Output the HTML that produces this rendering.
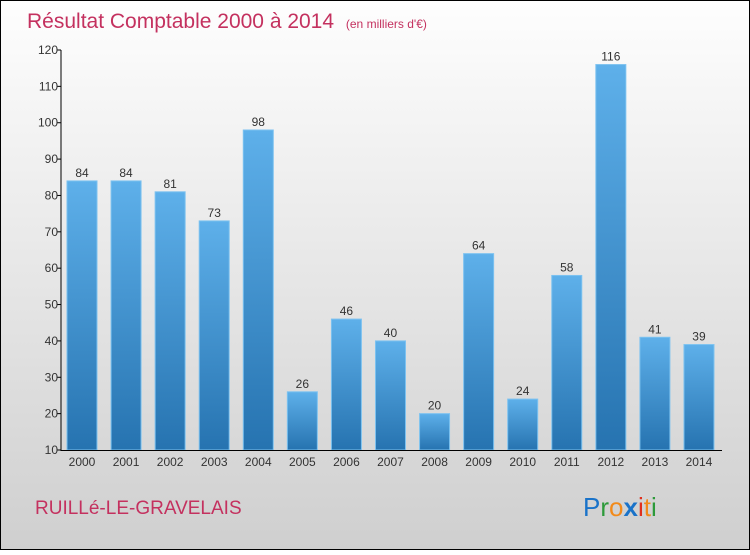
<!DOCTYPE html>
<html><head><meta charset="utf-8"><style>
html,body{margin:0;padding:0;}
body{width:750px;height:550px;overflow:hidden;font-family:"Liberation Sans",sans-serif;}
</style></head><body>
<svg width="750" height="550" xmlns="http://www.w3.org/2000/svg">
<defs>
<linearGradient id="bg" x1="0" y1="0" x2="0" y2="1"><stop offset="0" stop-color="#fefefe"/><stop offset="1" stop-color="#cfcfcf"/></linearGradient>
<linearGradient id="bar" x1="0" y1="0" x2="0" y2="1"><stop offset="0" stop-color="#5eb0ea"/><stop offset="1" stop-color="#2673b0"/></linearGradient>
</defs>
<rect x="0.5" y="0.5" width="749" height="549" fill="url(#bg)" stroke="#000"/>
<text x="27" y="28" font-size="21" fill="#c4315f">Résultat Comptable 2000 à 2014 <tspan font-size="12" dx="6">(en milliers d'€)</tspan></text>
<g id="ticks"></g>
<g id="bars"></g>
<line x1="61" y1="50" x2="61" y2="451" stroke="#000"/>
<line x1="61" y1="450.5" x2="722" y2="450.5" stroke="#000"/>
<text x="35" y="514" font-size="19" fill="#c4315f">RUILLé-LE-GRAVELAIS</text>
<g font-size="26" font-family="'Liberation Sans',sans-serif">
<text x="583" y="516" fill="#1a73c9">P<tspan fill="#2d9a3a">r</tspan><tspan fill="#f28a1a">o</tspan><tspan fill="#1a73c9" font-weight="bold">x</tspan><tspan fill="#e0301e">i</tspan><tspan fill="#f28a1a">t</tspan><tspan fill="#2d9a3a">i</tspan></text>
</g>
</svg>
<script>
const years=["2000","2001","2002","2003","2004","2005","2006","2007","2008","2009","2010","2011","2012","2013","2014"];
const values=[84,84,81,73,98,26,46,40,20,64,24,58,116,41,39];
const yTicks=[10,20,30,40,50,60,70,80,90,100,110,120];
const NS="http://www.w3.org/2000/svg";
const y=v=>450-(v-10)*400/110;
const x=i=>82+i*44.07;
const tg=document.getElementById('ticks');
yTicks.forEach(t=>{
 const l=document.createElementNS(NS,'line');
 
 
 l.setAttribute('x1',57);l.setAttribute('x2',61);l.setAttribute('y1',y(t));l.setAttribute('y2',y(t));l.setAttribute('stroke','#000');
 tg.appendChild(l);
 const s=document.createElementNS(NS,'text');
 
 
 s.setAttribute('x',58);s.setAttribute('y',y(t)+4);s.setAttribute('text-anchor','end');s.setAttribute('font-size','12');s.setAttribute('fill','#333');
 s.textContent=t;tg.appendChild(s);
});
const bg=document.getElementById('bars');
values.forEach((v,i)=>{
 const r=document.createElementNS(NS,'rect');
 
 
 r.setAttribute('x',x(i)-15);r.setAttribute('width',30);r.setAttribute('y',y(v));r.setAttribute('height',450-y(v));
 r.setAttribute('fill','url(#bar)');r.setAttribute('stroke','#7cc2f0');r.setAttribute('stroke-width','1');
 bg.appendChild(r);
 const t=document.createElementNS(NS,'text');
 
 
 t.setAttribute('x',x(i));t.setAttribute('y',y(v)-4);t.setAttribute('text-anchor','middle');t.setAttribute('font-size','12');t.setAttribute('fill','#333');
 t.textContent=v;bg.appendChild(t);
 const xl=document.createElementNS(NS,'text');
 
 
 xl.setAttribute('x',x(i));xl.setAttribute('y',466);xl.setAttribute('text-anchor','middle');xl.setAttribute('font-size','12');xl.setAttribute('fill','#333');
 xl.textContent=years[i];bg.appendChild(xl);
});
</script>
</body></html>
